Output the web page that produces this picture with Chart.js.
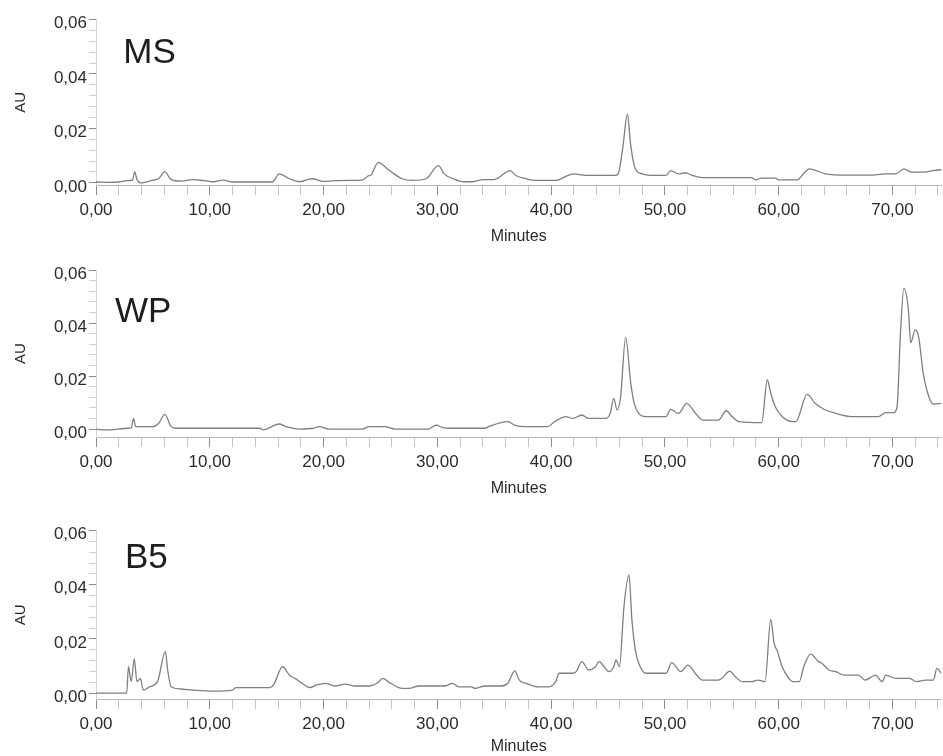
<!DOCTYPE html>
<html>
<head>
<meta charset="utf-8">
<script src="https://cdn.jsdelivr.net/npm/chart.js@4.4.1/dist/chart.umd.min.js"></script>
<style>
  html, body { margin: 0; padding: 0; background: #ffffff; }
  #wrap { position: relative; width: 943px; height: 756px; overflow: hidden; background: #fff; }
  .panel { position: absolute; left: 0; width: 943px; }
  canvas { display: block; }
</style>
</head>
<body>
<div id="wrap">
  <div class="panel" style="top:0px;height:246px"><canvas id="cMS" width="943" height="246"></canvas></div>
  <div class="panel" style="top:246px;height:252px"><canvas id="cWP" width="943" height="252"></canvas></div>
  <div class="panel" style="top:498px;height:258px"><canvas id="cB5" width="943" height="258"></canvas></div>
</div>
<script>
// ---------- DATA ----------
const panelNames = ['MS', 'WP', 'B5'];

const msTime = [0, 1.0, 2.0, 2.7, 3.2, 3.4, 3.6, 3.9, 4.3, 5.0, 5.5, 6.05, 6.5, 6.8, 7.5, 8.5, 9.5, 10.3, 11.2, 12.0, 14.0, 15.5, 16.1, 17.0, 17.9, 19.0, 20.0, 21.0, 22.5, 23.4, 23.9, 24.2, 24.8, 25.6, 26.2, 26.9, 27.8, 29.0, 30.1, 30.6, 31.4, 32.3, 33.1, 34.0, 35.0, 36.4, 36.9, 37.8, 38.6, 40.4, 41.5, 42.0, 43.0, 45.6, 45.9, 46.3, 46.7, 47.0, 47.4, 48.0, 48.9, 50.1, 50.5, 51.2, 51.8, 52.4, 53.3, 57.6, 58.0, 58.5, 59.7, 60.0, 61.6, 62.3, 62.7, 64.1, 65.9, 68.0, 69.4, 70.3, 71.0, 71.7, 72.6, 73.6, 74.3];
const msAU   = [0.0003, 0.0002, 0.0003, 0.0008, 0.0010, 0.0040, 0.0012, 0.0000, 0.0002, 0.0010, 0.0015, 0.0041, 0.0016, 0.0009, 0.0006, 0.0012, 0.0008, 0.0004, 0.0010, 0.0003, 0.0003, 0.0003, 0.0033, 0.0015, 0.0004, 0.0015, 0.0005, 0.0008, 0.0009, 0.0010, 0.0025, 0.0030, 0.0075, 0.0052, 0.0033, 0.0015, 0.0009, 0.0015, 0.0063, 0.0033, 0.0015, 0.0004, 0.0004, 0.0012, 0.0012, 0.0045, 0.0027, 0.0015, 0.0009, 0.0009, 0.0027, 0.0033, 0.0027, 0.0027, 0.0033, 0.0130, 0.0252, 0.0136, 0.0051, 0.0033, 0.0027, 0.0027, 0.0045, 0.0033, 0.0037, 0.0027, 0.0019, 0.0019, 0.0011, 0.0017, 0.0017, 0.0011, 0.0011, 0.0039, 0.0051, 0.0033, 0.0028, 0.0028, 0.0033, 0.0033, 0.0051, 0.0039, 0.0039, 0.0045, 0.0048];

const wpTime = [0, 0.5, 1.3, 2.5, 3.1, 3.3, 3.5, 4.0, 5.0, 5.5, 6.05, 6.6, 7.0, 10.0, 14.4, 14.7, 16.1, 16.7, 17.9, 19.1, 19.6, 20.5, 23.4, 24.0, 25.4, 26.3, 29.2, 29.9, 30.5, 31.0, 34.2, 34.5, 36.2, 36.8, 37.7, 39.7, 40.3, 41.3, 41.9, 42.7, 43.3, 44.8, 45.2, 45.5, 45.8, 46.1, 46.55, 47.0, 47.3, 47.7, 48.3, 50.1, 50.5, 51.2, 51.9, 52.7, 53.3, 54.7, 55.4, 55.9, 56.5, 58.5, 59.0, 59.3, 59.7, 60.3, 61.2, 61.5, 62.5, 63.2, 64.1, 65.0, 66.4, 68.8, 69.4, 70.1, 70.4, 70.7, 71.0, 71.4, 71.6, 72.0, 72.3, 72.7, 73.2, 73.6, 74.3];
const wpAU   = [0.0000, -0.0003, -0.0003, 0.0002, 0.0004, 0.0040, 0.0009, 0.0009, 0.0009, 0.0021, 0.0055, 0.0009, 0.0003, 0.0003, 0.0003, -0.0003, 0.0019, 0.0009, 0.0000, 0.0003, 0.0009, 0.0000, 0.0000, 0.0009, 0.0009, 0.0000, 0.0000, 0.0015, 0.0005, 0.0003, 0.0003, 0.0009, 0.0028, 0.0015, 0.0009, 0.0009, 0.0028, 0.0047, 0.0040, 0.0053, 0.0040, 0.0040, 0.0060, 0.0116, 0.0072, 0.0120, 0.0346, 0.0172, 0.0097, 0.0059, 0.0047, 0.0047, 0.0074, 0.0059, 0.0097, 0.0059, 0.0034, 0.0034, 0.0069, 0.0047, 0.0028, 0.0024, 0.0185, 0.0135, 0.0084, 0.0047, 0.0028, 0.0028, 0.0131, 0.0097, 0.0072, 0.0059, 0.0047, 0.0047, 0.0062, 0.0062, 0.0084, 0.0360, 0.0531, 0.0449, 0.0326, 0.0374, 0.0348, 0.0210, 0.0122, 0.0094, 0.0097];

const b5Time = [0, 2.7, 2.85, 3.1, 3.36, 3.6, 3.9, 4.15, 4.7, 5.4, 6.1, 6.3, 6.6, 7.4, 8.5, 10.3, 12.0, 12.3, 15.3, 15.6, 16.4, 17.0, 17.5, 18.1, 18.8, 19.4, 20.2, 21.0, 21.9, 22.8, 24.0, 24.7, 25.2, 25.9, 26.9, 27.5, 28.4, 30.7, 31.3, 31.9, 33.0, 33.3, 34.2, 35.6, 36.2, 36.8, 37.2, 37.8, 38.9, 39.8, 40.4, 40.7, 41.9, 42.2, 42.7, 43.3, 43.9, 44.2, 45.1, 45.5, 45.7, 46.0, 46.4, 46.84, 47.1, 47.4, 47.7, 48.3, 50.1, 50.6, 51.4, 52.0, 52.8, 53.3, 54.7, 55.0, 55.7, 56.2, 56.8, 57.6, 58.2, 58.8, 59.3, 59.6, 59.9, 60.3, 60.9, 61.2, 61.8, 62.2, 62.8, 63.5, 63.8, 64.4, 65.0, 65.8, 67.0, 67.6, 68.5, 69.1, 69.4, 70.3, 71.5, 72.1, 72.9, 73.6, 73.9, 74.3];
const b5AU   = [0.0000, 0.0000, 0.0097, 0.0042, 0.0126, 0.0042, 0.0054, 0.0011, 0.0023, 0.0042, 0.0153, 0.0085, 0.0023, 0.0015, 0.0011, 0.0007, 0.0011, 0.0020, 0.0020, 0.0030, 0.0097, 0.0066, 0.0054, 0.0036, 0.0020, 0.0030, 0.0036, 0.0026, 0.0033, 0.0026, 0.0026, 0.0036, 0.0054, 0.0036, 0.0017, 0.0017, 0.0026, 0.0026, 0.0036, 0.0023, 0.0023, 0.0017, 0.0026, 0.0026, 0.0036, 0.0082, 0.0048, 0.0036, 0.0023, 0.0023, 0.0042, 0.0073, 0.0073, 0.0079, 0.0116, 0.0085, 0.0097, 0.0116, 0.0079, 0.0097, 0.0122, 0.0097, 0.0319, 0.0436, 0.0270, 0.0159, 0.0110, 0.0073, 0.0073, 0.0112, 0.0079, 0.0103, 0.0066, 0.0048, 0.0048, 0.0054, 0.0081, 0.0060, 0.0042, 0.0042, 0.0048, 0.0042, 0.0272, 0.0183, 0.0153, 0.0097, 0.0054, 0.0042, 0.0042, 0.0097, 0.0144, 0.0116, 0.0110, 0.0085, 0.0079, 0.0066, 0.0066, 0.0048, 0.0066, 0.0042, 0.0066, 0.0054, 0.0054, 0.0042, 0.0048, 0.0048, 0.0091, 0.0073];

// tick labels
const xMajorValues = [0, 10, 20, 30, 40, 50, 60, 70];
const xTickLabels  = ['0,00', '10,00', '20,00', '30,00', '40,00', '50,00', '60,00', '70,00'];
const yTickLabels  = ['0,00', '0,02', '0,04', '0,06'];
const xTitle = 'Minutes';
const yTitle = 'AU';

// ---------- helpers / styling ----------
const FONT = '"Liberation Sans", Arial, Helvetica, sans-serif';
const TEXT = '#2b2b2b';

// minor tick grids (axis decoration)
const xTickValues = [];
for (let i = 0; i <= 37; i++) xTickValues.push(i * 2);
const yTickValues = [];
for (let i = 0; i <= 15; i++) yTickValues.push(+(i * 0.004).toFixed(3));

const panelLabelPlugin = {
  id: 'panelLabel',
  afterDraw(chart, args, opts) {
    if (!opts || !opts.text) return;
    const { ctx } = chart;
    const xs = chart.scales.x, ys = chart.scales.y;
    ctx.save();
    ctx.font = '35px ' + FONT;
    ctx.fillStyle = '#1e1e1e';
    ctx.textAlign = 'left';
    ctx.textBaseline = 'alphabetic';
    ctx.fillText(opts.text, xs.getPixelForValue(opts.atX), ys.getPixelForValue(opts.atY));
    ctx.restore();
  }
};

function makePanel(id, name, times, values, lay) {
  const pts = times.map((t, i) => ({ x: t, y: values[i] }));
  return new Chart(document.getElementById(id), {
    type: 'line',
    data: {
      datasets: [{
        label: name,
        data: pts,
        borderColor: '#7f7f7f',
        borderWidth: 1.3,
        pointRadius: 0,
        fill: false,
        cubicInterpolationMode: 'monotone'
      }]
    },
    options: {
      responsive: false,
      animation: false,
      devicePixelRatio: 1,
      layout: { padding: { top: lay.padTop, left: 0, right: 0, bottom: 0 } },
      plugins: {
        legend: { display: false },
        tooltip: { enabled: false },
        panelLabel: { text: name, atX: lay.labelX, atY: lay.labelY }
      },
      scales: {
        x: {
          type: 'linear',
          min: 0,
          max: 74.3,
          afterBuildTicks: (s) => { s.ticks = xTickValues.map(v => ({ value: v })); },
          afterFit: (s) => { s.height = lay.xHeight; },
          ticks: {
            autoSkip: false,
            maxRotation: 0,
            padding: 5,
            color: TEXT,
            font: { family: FONT, size: 17 },
            callback: (v) => { const k = xMajorValues.indexOf(v); return k >= 0 ? xTickLabels[k] : ''; }
          },
          grid: {
            drawOnChartArea: false,
            drawTicks: true,
            tickLength: 10,
            tickColor: (c) => (c.index % 5 === 0 ? '#8c8c8c' : '#c4c4c4'),
            tickWidth: 1
          },
          border: { display: true, color: '#b8b8b8', width: 1 },
          title: {
            display: true,
            text: xTitle,
            color: TEXT,
            font: { family: FONT, size: 16 },
            padding: { top: 0, bottom: 0 }
          }
        },
        y: {
          type: 'linear',
          min: lay.yMin,
          max: 0.06,
          afterBuildTicks: (s) => { s.ticks = yTickValues.map(v => ({ value: v })); },
          afterFit: (s) => { s.width = 96; },
          ticks: {
            autoSkip: false,
            padding: 2,
            labelOffset: 4,
            color: TEXT,
            font: { family: FONT, size: 17 },
            callback: (v, i) => (i % 5 === 0 ? yTickLabels[i / 5] : '')
          },
          grid: {
            drawOnChartArea: false,
            drawTicks: true,
            tickLength: 7,
            tickColor: (c) => (c.index % 5 === 0 ? '#8c8c8c' : '#d0d0d0'),
            tickWidth: 1
          },
          border: { display: true, color: '#d6d6d6', width: 1, dash: [1, 2] },
          title: {
            display: true,
            text: yTitle,
            color: TEXT,
            font: { family: FONT, size: 15 },
            padding: { top: 12, bottom: 0 }
          }
        }
      }
    },
    plugins: [panelLabelPlugin]
  });
}

makePanel('cMS', panelNames[0], msTime, msAU, { padTop: 19.5, xHeight: 61, yMin: -0.0008, labelX: 2.4, labelY: 0.044 });
makePanel('cWP', panelNames[1], wpTime, wpAU, { padTop: 24, xHeight: 61, yMin: -0.003, labelX: 1.67, labelY: 0.0405 });
makePanel('cB5', panelNames[2], b5Time, b5AU, { padTop: 32.5, xHeight: 57, yMin: -0.0022, labelX: 2.54, labelY: 0.046 });
</script>
</body>
</html>
